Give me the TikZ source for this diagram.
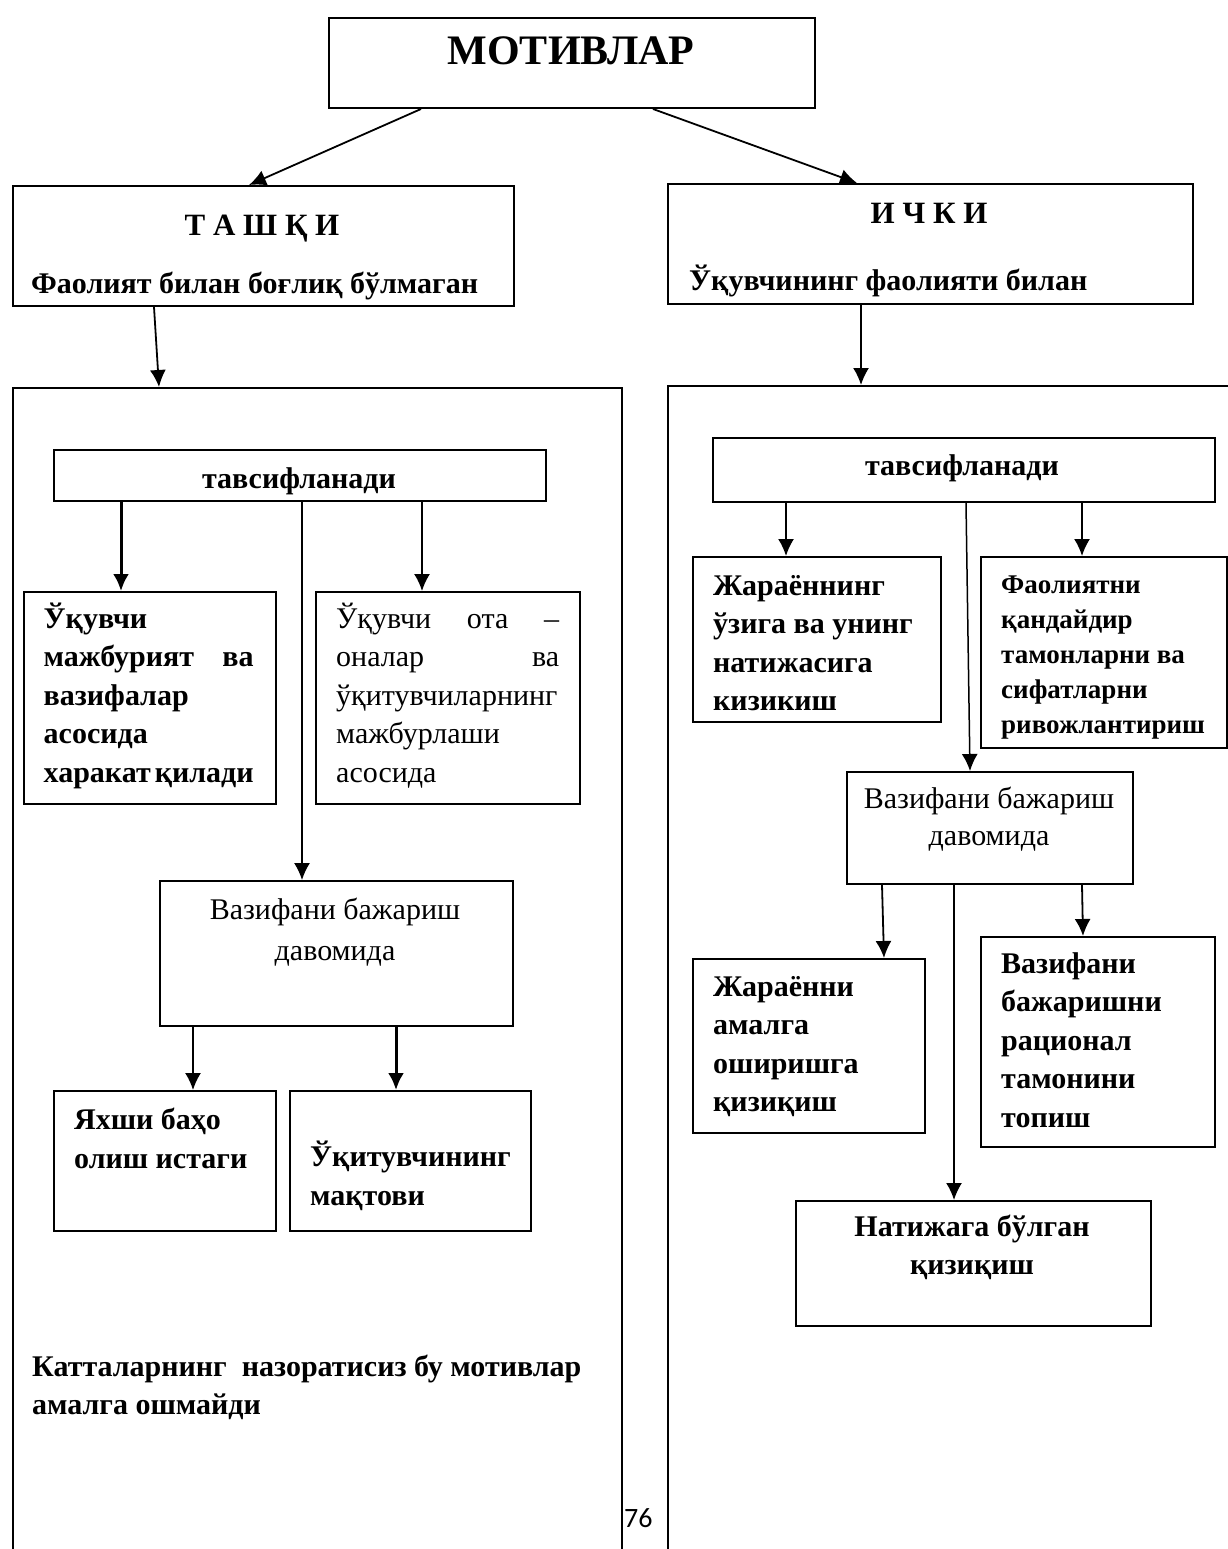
\documentclass[tikz,border=0pt]{standalone}
\usepackage{fontspec}
\setmainfont{Liberation Serif}
\newfontfamily\pagenumfont{Carlito}
\usetikzlibrary{arrows.meta, positioning}

\begin{document}
\begin{tikzpicture}[x=1pt, y=-1pt,
    box/.style={draw, line width=2pt, inner sep=0pt, anchor=north west},
    txt/.style={inner sep=0pt, anchor=base west, align=flush left, font=\bfseries\fontsize{30}{38.5}\selectfont},
    arr/.style={-{Latex[length=17pt,width=16pt]}, line width=1.8pt},
    thickarr/.style={arr, line width=3pt}]
    \useasboundingbox (0,0) rectangle (1227,1549);

    \node[box, minimum width=486pt, minimum height=90pt] (mot) at (328,17) {};
    \node[box, minimum width=501pt, minimum height=120pt] (tashqi) at (12,185) {};
    \node[box, minimum width=525pt, minimum height=120pt] (ichki) at (667,183) {};
    \node[box, minimum width=609pt, minimum height=1250pt] (chap) at (12,387) {};
    \node[box, minimum width=620pt, minimum height=1250pt] (ong) at (667,385) {};
    \node[box, minimum width=492pt, minimum height=51pt] (tavL) at (53,449) {};
    \node[box, minimum width=252pt, minimum height=212pt] (majbur) at (23,591) {};
    \node[box, minimum width=264pt, minimum height=212pt] (otaona) at (315,591) {};
    \node[box, minimum width=353pt, minimum height=145pt] (vazL) at (159,880) {};
    \node[box, minimum width=222pt, minimum height=140pt] (baho) at (53,1090) {};
    \node[box, minimum width=241pt, minimum height=140pt] (maqtov) at (289,1090) {};
    \node[box, minimum width=502pt, minimum height=64pt] (tavR) at (712,437) {};
    \node[box, minimum width=248pt, minimum height=165pt] (jarayon) at (692,556) {};
    \node[box, minimum width=246pt, minimum height=191pt] (faol) at (980,556) {};
    \node[box, minimum width=286pt, minimum height=112pt] (vazR) at (846,771) {};
    \node[box, minimum width=232pt, minimum height=174pt] (amalga) at (692,958) {};
    \node[box, minimum width=234pt, minimum height=210pt] (ratsional) at (980,936) {};
    \node[box, minimum width=355pt, minimum height=125pt] (natija) at (795,1200) {};

    \node[txt, anchor=base, font=\bfseries\fontsize{42}{48}\selectfont] (motT) at (571,65) {МОТИВЛАР};
    \node[txt, anchor=base, font=\bfseries\fontsize{31}{36}\selectfont] (tashqiT) at (262,235) {Т А Ш Қ И};
    \node[txt, anchor=base, font=\bfseries\fontsize{31}{36}\selectfont] (ichkiT) at (929,223) {И Ч К И};
    \node[txt] (tashqiS) at (31,293) {Фаолият билан боғлиқ бўлмаган};
    \node[txt] (ichkiS) at (689,290) {Ўқувчининг фаолияти билан};
    \node[txt, anchor=base] (tavLT) at (299,488) {тавсифланади};
    \node[txt, anchor=base] (tavRT) at (962,475) {тавсифланади};
    \node[txt, text width=210pt] (majburT) at (43.5,628) {Ўқувчи\\ мажбурият\hfill ва\\ вазифалар\\ асосида\\ харакат\hfill қилади};
    \node[txt, text width=223pt, font=\fontsize{30}{38.5}\selectfont] (otaonaT) at (336,628) {Ўқувчи\hfill ота\hfill –\\ оналар\hfill ва\\ ўқитувчиларнинг\\ мажбурлаши\\ асосида};
    \node[txt, anchor=base, align=flush center, text width=353pt, font=\fontsize{30}{41}\selectfont] (vazLT) at (335,919) {Вазифани бажариш\\ давомида};
    \node[txt, text width=200pt, font=\bfseries\fontsize{30}{39}\selectfont] (bahoT) at (74,1129) {Яхши баҳо\\ олиш истаги};
    \node[txt, text width=215pt] (maqtovT) at (310,1166.5) {Ўқитувчининг\\ мақтови};
    \node[txt, text width=585pt] (nazoratT) at (32,1376) {Катталарнинг\ \ назоратисиз бу мотивлар\\ амалга ошмайди};
    \node[txt, text width=225pt] (jarayonT) at (713,595) {Жараённинг\\ ўзига ва унинг\\ натижасига\\ кизикиш};
    \node[txt, text width=224pt, font=\bfseries\fontsize{27}{35}\selectfont] (faolT) at (1001,593) {Фаолиятни\\ қандайдир\\ тамонларни ва\\ сифатларни\\ ривожлантириш};
    \node[txt, anchor=base, align=flush center, text width=286pt, font=\fontsize{30}{37}\selectfont] (vazRT) at (989,808) {Вазифани бажариш\\ давомида};
    \node[txt, text width=205pt] (amalgaT) at (713,996) {Жараённи\\ амалга\\ оширишга\\ қизиқиш};
    \node[txt, text width=210pt] (ratsionalT) at (1001,973) {Вазифани\\ бажаришни\\ рационал\\ тамонини\\ топиш};
    \node[txt, anchor=base, align=flush center, text width=355pt] (natijaT) at (972,1236) {Натижага бўлган\\ қизиқиш};
    \node[inner sep=0pt, anchor=base west, font=\pagenumfont\fontsize{28}{30}\selectfont] (bet) at (624,1527) {76};

    \path[arr] ([xshift=93pt]mot.south west) edge ([xshift=237pt]tashqi.north west);
    \path[arr] ([xshift=325pt]mot.south west) edge ([xshift=190pt]ichki.north west);
    \path[arr] ([xshift=142pt]tashqi.south west) edge ([xshift=147pt]chap.north west);
    \path[arr] ([xshift=194pt]ichki.south west) edge ([xshift=194pt]ong.north west);
    \path[thickarr] ([xshift=68pt]tavL.south west) edge ([xshift=98pt]majbur.north west);
    \path[arr, line width=1.5pt] ([xshift=249pt]tavL.south west) edge ([xshift=143pt]vazL.north west);
    \path[arr] ([xshift=369pt]tavL.south west) edge ([xshift=107pt]otaona.north west);
    \path[arr] ([xshift=34pt]vazL.south west) edge ([xshift=140pt]baho.north west);
    \path[thickarr] ([xshift=237pt]vazL.south west) edge ([xshift=107pt]maqtov.north west);
    \path[arr] ([xshift=74pt]tavR.south west) edge ([xshift=94pt]jarayon.north west);
    \path[arr, line width=1.5pt] ([xshift=254pt]tavR.south west) edge ([xshift=124pt]vazR.north west);
    \path[arr] ([xshift=370pt]tavR.south west) edge ([xshift=102pt]faol.north west);
    \path[arr] ([xshift=36pt]vazR.south west) edge ([xshift=192pt]amalga.north west);
    \path[arr] ([xshift=108pt]vazR.south west) edge ([xshift=159pt]natija.north west);
    \path[arr] ([xshift=236pt]vazR.south west) edge ([xshift=103pt]ratsional.north west);
\end{tikzpicture}
\end{document}
